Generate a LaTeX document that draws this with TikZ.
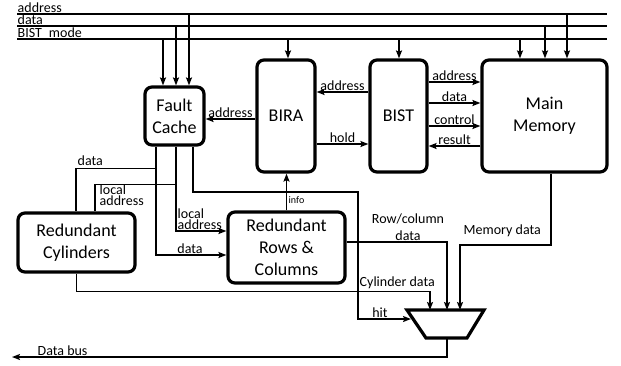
\documentclass[tikz,border=0pt]{standalone}
\usepackage{fontspec}
\setmainfont{Carlito}
\usetikzlibrary{arrows.meta,calc}
\begin{document}
\begin{tikzpicture}[x=1pt,y=-1pt,
 wire/.style={line width=1.6pt},
 arr/.style={wire,-{Stealth[length=8pt,width=6pt,inset=1.5pt]}},
 blk/.style={draw,line width=3.2pt,rounded corners=7pt,align=center,font=\fontsize{18}{22}\selectfont,inner sep=0pt},
 lbl/.style={font=\fontsize{14}{14}\selectfont,inner sep=0.5pt},
 lbl2/.style={font=\fontsize{14}{11}\selectfont,inner sep=0.5pt,align=left},
 tiny/.style={font=\fontsize{10}{10}\selectfont,inner sep=0.5pt},
]
\useasboundingbox (0,0) rectangle (621,365);

% blocks
\node[blk,minimum width=59pt,minimum height=58pt] (fc) at (174.5,116) {Fault\\Cache};
\node[blk,minimum width=58pt,minimum height=112pt] (bira) at (286,116) {BIRA};
\node[blk,minimum width=57pt,minimum height=112pt] (bist) at (398.5,116) {BIST};
\node[blk,minimum width=125pt,minimum height=112pt] (mm) at (544.5,116) {Main\\Memory};
\node[blk,minimum width=117pt,minimum height=59pt] (rc) at (76.5,242.5) {Redundant\\Cylinders};
\node[blk,minimum width=117pt,minimum height=71pt] (rrc) at (286.5,247.5) {Redundant\\Rows \&\\Columns};

% mux
\coordinate (mtl) at (407,310);
\coordinate (mtr) at (484,310);
\coordinate (mbr) at (467,338);
\coordinate (mbl) at (426,338);
\draw[line width=3.2pt,line join=miter] (mtl) -- (mtr) -- (mbr) -- (mbl) -- cycle;

% helper coordinates
\coordinate (aL) at (17,14);  \coordinate (aR) at (607,14);
\coordinate (dL) at (17,26);  \coordinate (dR) at (607,26);
\coordinate (mL) at (17,39);  \coordinate (mR) at (607,39);
\coordinate (xf1) at (163,0); \coordinate (xf2) at (176,0); \coordinate (xf3) at (189,0);
\coordinate (xb) at (288,0);  \coordinate (xs) at (399,0);
\coordinate (xm1) at (520,0); \coordinate (xm2) at (545,0); \coordinate (xm3) at (567,0);
\coordinate (w1) at (156,0);  \coordinate (w2) at (176,0);  \coordinate (w3) at (193,0);
\coordinate (xc1) at (76,0);  \coordinate (xc2) at (95,0);
\coordinate (xh) at (358,0);  \coordinate (xr) at (447,0);
\coordinate (xmd) at (551,0); \coordinate (xmm) at (460,0);
\coordinate (xcy) at (430,0); \coordinate (xo) at (447,0);
\coordinate (hitEnd) at (411,319);
\coordinate (busEnd) at (12,357);

% buses
\draw[wire] (aL) -- (aR);
\draw[wire] (dL) -- (dR);
\draw[wire] (mL) -- (mR);
\node[lbl,anchor=base west] at (17,12.5) {address};
\node[lbl,anchor=base west] at (17,24.5) {data};
\node[lbl,anchor=base west] at (17,37.5) {BIST\_mode};

% bus drops
\draw[arr] (xf1 |- mL) -- (xf1 |- fc.north);
\draw[arr] (xf2 |- dL) -- (xf2 |- fc.north);
\draw[arr] (xf3 |- aL) -- (xf3 |- fc.north);
\draw[arr] (xb |- mL) -- (xb |- bira.north);
\draw[arr] (xs |- mL) -- (xs |- bist.north);
\draw[arr] (xm1 |- mL) -- (xm1 |- mm.north);
\draw[arr] (xm2 |- dL) -- (xm2 |- mm.north);
\draw[arr] (xm3 |- aL) -- (xm3 |- mm.north);

% BIRA <-> Fault cache / BIST
\draw[arr] ($(bira.west)+(0,3)$) -- node[lbl,above]{address} ($(fc.east)+(0,3)$);
\draw[arr] ($(bist.west)+(0,-24)$) -- node[lbl,above]{address} ($(bira.east)+(0,-24)$);
\draw[arr] ($(bira.east)+(0,28)$) -- node[lbl,above]{hold} ($(bist.west)+(0,28)$);

% BIST <-> Main memory
\draw[arr] ($(bist.east)+(0,-34)$) -- node[lbl,above]{address} ($(mm.west)+(0,-34)$);
\draw[arr] ($(bist.east)+(0,-13)$) -- node[lbl,above]{data} ($(mm.west)+(0,-13)$);
\draw[arr] ($(bist.east)+(0,10)$) -- node[lbl,above]{control} ($(mm.west)+(0,10)$);
\draw[arr] ($(mm.west)+(0,30)$) -- node[lbl,above]{result} ($(bist.east)+(0,30)$);

% Fault cache bottom wires
\draw[arr] (w1 |- fc.south) |- ($(rrc.west)+(0,7.5)$);
\node[lbl,anchor=south] at (190,254) {data};
\draw[wire] ($(w1 |- fc.south)+(0,22)$) -| (xc1 |- rc.north);
\node[lbl,anchor=south west] at (77,166) {data};

\draw[arr] (w2 |- fc.south) |- ($(rrc.west)+(0,-16.5)$);
\node[lbl2,anchor=south west] at (177,230) {local\\address};
\draw[wire] ($(w2 |- fc.south)+(0,38)$) -| (xc2 |- rc.north);
\node[lbl2,anchor=north west] at (99,184.5) {local\\address};

\draw[arr] (w3 |- fc.south) |- ($(xh)+(0,192)$) |- (hitEnd);
\node[lbl,anchor=south] at (380,318) {hit};

% info
\draw[arr] (rrc.north) -- (rrc.north |- bira.south);
\node[tiny,anchor=west] at (288,200) {info};

% into mux
\draw[arr] ($(rrc.east)+(0,-5.5)$) -| (xr |- mtl);
\node[lbl,align=center,font=\fontsize{14}{17}\selectfont,anchor=south] at (408,241) {Row/column\\data};

\draw[arr] (xmd |- mm.south) -- ($(xmd)+(0,245)$) -| (xmm |- mtl);
\node[lbl,anchor=base west] at (463,234) {Memory data};

\draw[arr] (rc.south) -- ($(rc.south)+(0,18)$) -| (xcy |- mtl);
\node[lbl,anchor=south west] at (359,289) {Cylinder data};

% output
\draw[arr] (xo |- mbl) |- (busEnd);
\node[lbl,anchor=south west] at (37,356) {Data bus};
\end{tikzpicture}
\end{document}
